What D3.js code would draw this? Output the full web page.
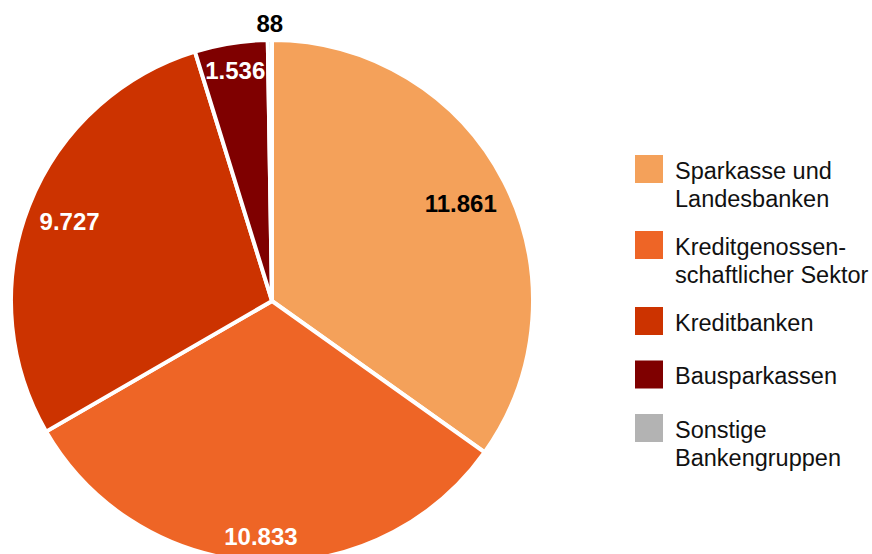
<!DOCTYPE html>
<html><head><meta charset="utf-8">
<script src="https://cdn.jsdelivr.net/npm/d3@7"></script>
<style>html,body{margin:0;padding:0;background:#fff;}svg{display:block;font-family:"Liberation Sans",Arial,sans-serif;}</style>
</head><body>
<svg id="chart" width="872" height="554"></svg>
<script>
const categories = ["Sparkasse und Landesbanken","Kreditgenossenschaftlicher Sektor","Kreditbanken","Bausparkassen","Sonstige Bankengruppen"];
const legendLines = [["Sparkasse und","Landesbanken"],["Kreditgenossen-","schaftlicher Sektor"],["Kreditbanken"],["Bausparkassen"],["Sonstige","Bankengruppen"]];
const values = [11861, 10833, 9727, 1536, 88];
const valueLabels = ["11.861","10.833","9.727","1.536","88"];
const colors = ["#f4a15a","#ee6526","#cc3300","#7f0000","#b3b3b3"];
const labelColors = ["#000","#fff","#fff","#fff","#000"];

const svg = d3.select("#chart");
const cx = 272, cy = 301, R = 261;
const data = values.map((v,i)=>({v,i}));
const pie = d3.pie().value(d=>d.v).sort(null);
const arcs = pie(data);
const arc = d3.arc().innerRadius(0).outerRadius(R);
const g = svg.append("g").attr("transform",`translate(${cx},${cy})`);
g.selectAll("path").data(arcs).join("path")
  .attr("d",arc).attr("fill",d=>colors[d.data.i])
  .attr("stroke","#fff").attr("stroke-width",4).attr("stroke-linejoin","miter");

const total = d3.sum(values);
const D = 0.952*R;
arcs.forEach(a=>{
  const i = a.data.i;
  const mid = (a.startAngle+a.endAngle)/2;
  const ux = Math.sin(mid), uy = -Math.cos(mid);
  const t = g.append("text").text(valueLabels[i])
    .attr("font-size",24).attr("font-weight","bold")
    .attr("fill",labelColors[i]).attr("text-anchor","middle");
  const w = t.node().getComputedTextLength();
  const h = 17;
  let r;
  if (a.data.v/total < 0.01) {
    r = R + 17;
  } else {
    const c = [Math.sign(ux)*w/2, Math.sign(uy)*h/2];
    const uc = ux*c[0]+uy*c[1];
    r = -uc + Math.sqrt(uc*uc - (c[0]*c[0]+c[1]*c[1]) + D*D);
  }
  t.attr("x",ux*r).attr("y",uy*r + h/2);
});

// legend
const lg = svg.append("g");
let y = 155;
legendLines.forEach((lines,i)=>{
  lg.append("rect").attr("x",635).attr("y",y).attr("width",28).attr("height",28).attr("fill",colors[i]);
  const tx = lg.append("text").attr("x",675).attr("y",y+23.5).attr("font-size",23.5).attr("fill","#111");
  lines.forEach((l,k)=>tx.append("tspan").attr("x",675).attr("dy",k===0?0:28).text(l));
  y += lines.length*22.5 + 31;
});
</script>
</body></html>
